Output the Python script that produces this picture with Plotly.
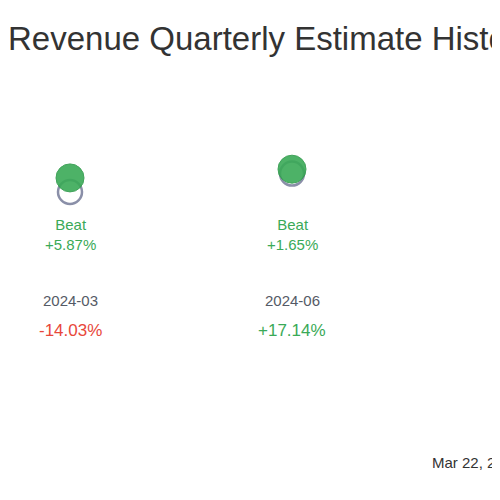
import plotly.graph_objects as go

quarters = ["2024-03", "2024-06", "2024-09"]
estimate = [100.0, 107.7, 112.0]
actual = [105.87, 109.5, 116.0]
surprise = ["+5.87%", "+1.65%", "+3.57%"]
result = ["Beat", "Beat", "Beat"]
yoy = ["-14.03%", "+17.14%", "-4.10%"]

xs = list(range(len(quarters)))
fig = go.Figure()
fig.add_trace(go.Scatter(x=xs, y=estimate, mode="markers",
                         marker=dict(size=24, color="white", line=dict(color="#8a8fa8", width=2.5))))
fig.add_trace(go.Scatter(x=xs, y=actual, mode="markers",
                         marker=dict(size=28, color="#3aaa57", opacity=0.9,
                                     line=dict(color="#2e9a4a", width=1))))

green, red, grey = "#3aaa57", "#e8473a", "#555a66"
for i in xs:
    fig.add_annotation(x=i, y=1 - 227 / 500, yref="paper", text=result[i] + "<br>" + surprise[i],
                       showarrow=False, font=dict(color=green, size=15))
    fig.add_annotation(x=i, y=1 - 292 / 500, yref="paper", text=quarters[i],
                       showarrow=False, font=dict(color=grey, size=15))
    fig.add_annotation(x=i, y=1 - 334 / 500, yref="paper", text=yoy[i], showarrow=False,
                       font=dict(color=green if yoy[i].startswith("+") else red, size=17))

fig.add_annotation(x=422 / 500, y=1 - 465 / 500, xref="paper", yref="paper", xanchor="left",
                   text="Mar 22, 2025", showarrow=False, font=dict(color="#333", size=15))
fig.add_annotation(x=-2 / 500, y=1 - 10 / 500, xref="paper", yref="paper", xanchor="left",
                   text="Revenue Quarterly Estimate History", showarrow=False,
                   font=dict(color="#333", size=33))

fig.update_layout(width=500, height=500, margin=dict(l=0, r=0, t=0, b=0),
                  plot_bgcolor="white", paper_bgcolor="white", showlegend=False,
                  font=dict(family="Liberation Sans"),
                  xaxis=dict(range=[-62 / 222, 438 / 222], visible=False),
                  yaxis=dict(range=[100 - 316 / 2.4, 100 + 184 / 2.4], visible=False))
fig.write_html("out.html")
